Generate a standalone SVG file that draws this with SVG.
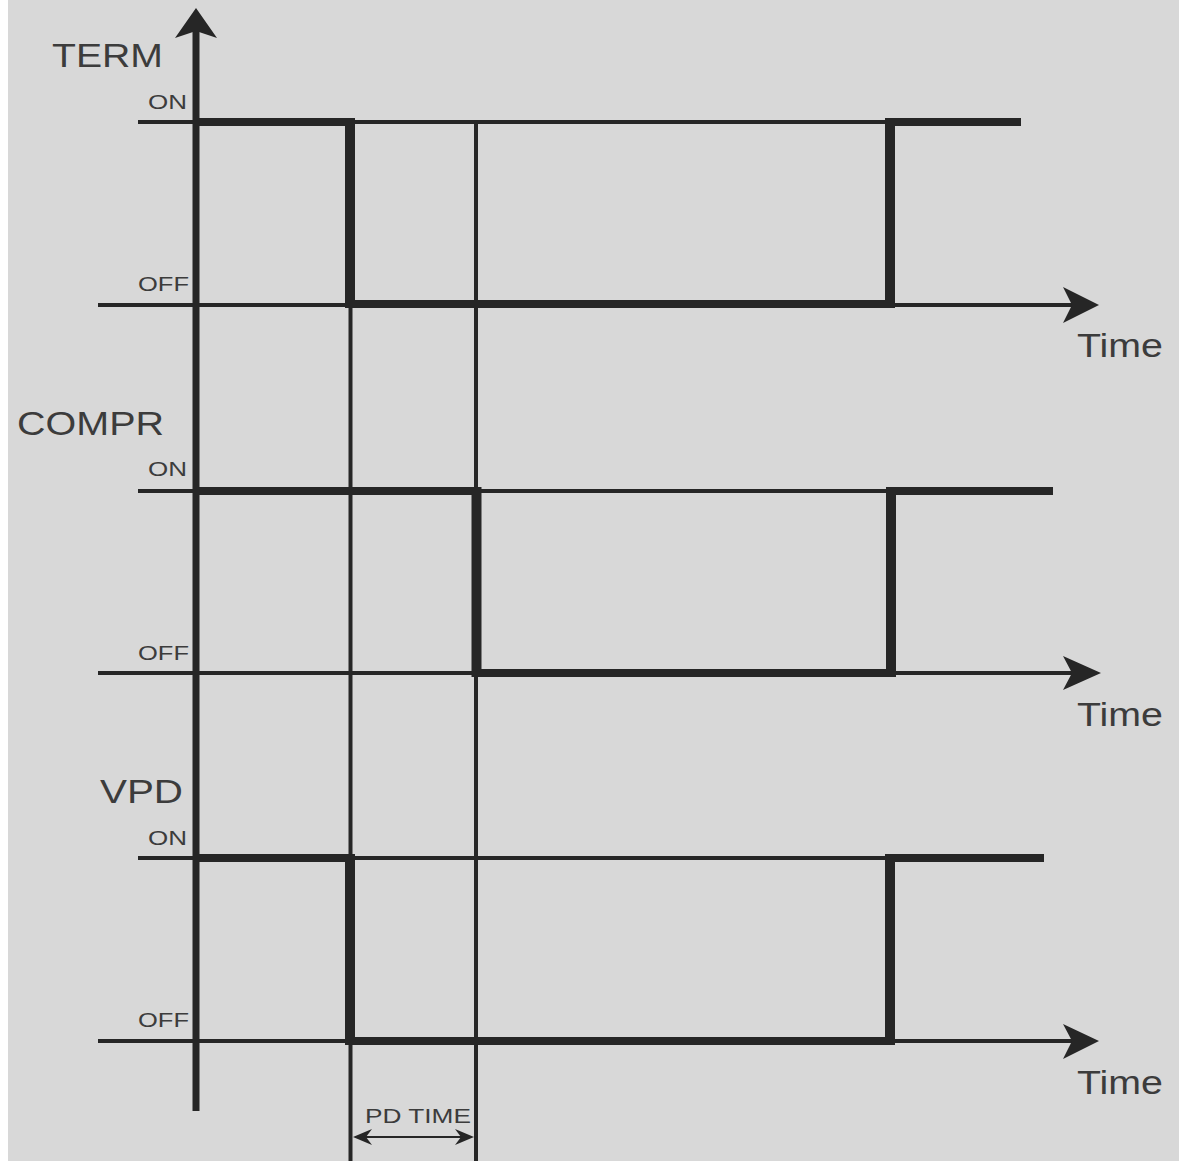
<svg xmlns="http://www.w3.org/2000/svg" width="1179" height="1161" viewBox="0 0 1179 1161">
<defs>
<style>
.thin{stroke:#262626;stroke-width:4;fill:none}
.sig{stroke:#262626;stroke-width:8;fill:none;stroke-linejoin:miter}
.edge{stroke:#262626;stroke-width:10;fill:none}
.lbl{font-family:"Liberation Sans",Arial,sans-serif;fill:#3c3c3c}
.big{font-size:34px}
.sm{font-size:21px}
.ah{fill:#262626}
</style>
</defs>
<rect x="0" y="0" width="1179" height="1161" fill="#ffffff"/>
<rect x="8" y="0" width="1171" height="1161" fill="#d8d8d8"/>

<g id="connectors">
<!-- vertical axis -->
<line x1="196" y1="30" x2="196" y2="1111" stroke="#262626" stroke-width="7"/>
<path class="ah" d="M196,8 L217,38 L196,31 L175,38 Z"/>

<!-- guide verticals -->
<line class="thin" x1="350.5" y1="122" x2="350.5" y2="1161"/>
<line class="thin" x1="476" y1="122" x2="476" y2="1161"/>

<!-- TERM -->
<line class="thin" x1="138" y1="122" x2="890" y2="122"/>
<line class="thin" x1="98" y1="305" x2="1075" y2="305"/>
<path class="ah" d="M1099,305 L1063,287 L1072,305 L1063,323 Z"/>
<polyline class="sig" points="196,122 350,122 350,304 890,304 890,122 1021,122"/>
<line class="edge" x1="350" y1="118" x2="350" y2="308"/>
<line class="edge" x1="890" y1="118" x2="890" y2="308"/>

<!-- COMPR -->
<line class="thin" x1="138" y1="491" x2="890" y2="491"/>
<line class="thin" x1="98" y1="673" x2="1075" y2="673"/>
<path class="ah" d="M1101,673 L1063,656 L1072,673 L1063,690 Z"/>
<polyline class="sig" points="196,491 476.5,491 476.5,673 891,673 891,491 1053,491"/>
<line class="edge" x1="476.5" y1="487" x2="476.5" y2="677"/>
<line class="edge" x1="891" y1="487" x2="891" y2="677"/>

<!-- VPD -->
<line class="thin" x1="138" y1="858" x2="890" y2="858"/>
<line class="thin" x1="98" y1="1041" x2="1075" y2="1041"/>
<path class="ah" d="M1099,1041 L1063,1024 L1072,1041 L1063,1059 Z"/>
<polyline class="sig" points="196,858 350,858 350,1041 890,1041 890,858 1044,858"/>
<line class="edge" x1="350" y1="854" x2="350" y2="1045"/>
<line class="edge" x1="890" y1="854" x2="890" y2="1045"/>

<!-- PD TIME dimension -->
<line x1="360" y1="1137" x2="470" y2="1137" stroke="#262626" stroke-width="2"/>
<path class="ah" d="M353,1137 L372,1129 L366,1137 L372,1145 Z"/>
<path class="ah" d="M474,1137 L455,1129 L461,1137 L455,1145 Z"/>
</g>

<g id="labels">
<text class="lbl big" x="52" y="67" textLength="111" lengthAdjust="spacingAndGlyphs">TERM</text>
<text class="lbl big" x="17" y="435" textLength="147" lengthAdjust="spacingAndGlyphs">COMPR</text>
<text class="lbl big" x="100" y="803" textLength="83" lengthAdjust="spacingAndGlyphs">VPD</text>

<text class="lbl sm" x="148" y="109" textLength="39" lengthAdjust="spacingAndGlyphs">ON</text>
<text class="lbl sm" x="138" y="291" textLength="51" lengthAdjust="spacingAndGlyphs">OFF</text>
<text class="lbl sm" x="148" y="476" textLength="39" lengthAdjust="spacingAndGlyphs">ON</text>
<text class="lbl sm" x="138" y="660" textLength="51" lengthAdjust="spacingAndGlyphs">OFF</text>
<text class="lbl sm" x="148" y="845" textLength="39" lengthAdjust="spacingAndGlyphs">ON</text>
<text class="lbl sm" x="138" y="1027" textLength="51" lengthAdjust="spacingAndGlyphs">OFF</text>

<text class="lbl big" x="1077" y="357" textLength="86" lengthAdjust="spacingAndGlyphs">Time</text>
<text class="lbl big" x="1077" y="726" textLength="86" lengthAdjust="spacingAndGlyphs">Time</text>
<text class="lbl big" x="1077" y="1094" textLength="86" lengthAdjust="spacingAndGlyphs">Time</text>

<text class="lbl sm" x="365" y="1123" textLength="106" lengthAdjust="spacingAndGlyphs">PD TIME</text>
</g>
</svg>
